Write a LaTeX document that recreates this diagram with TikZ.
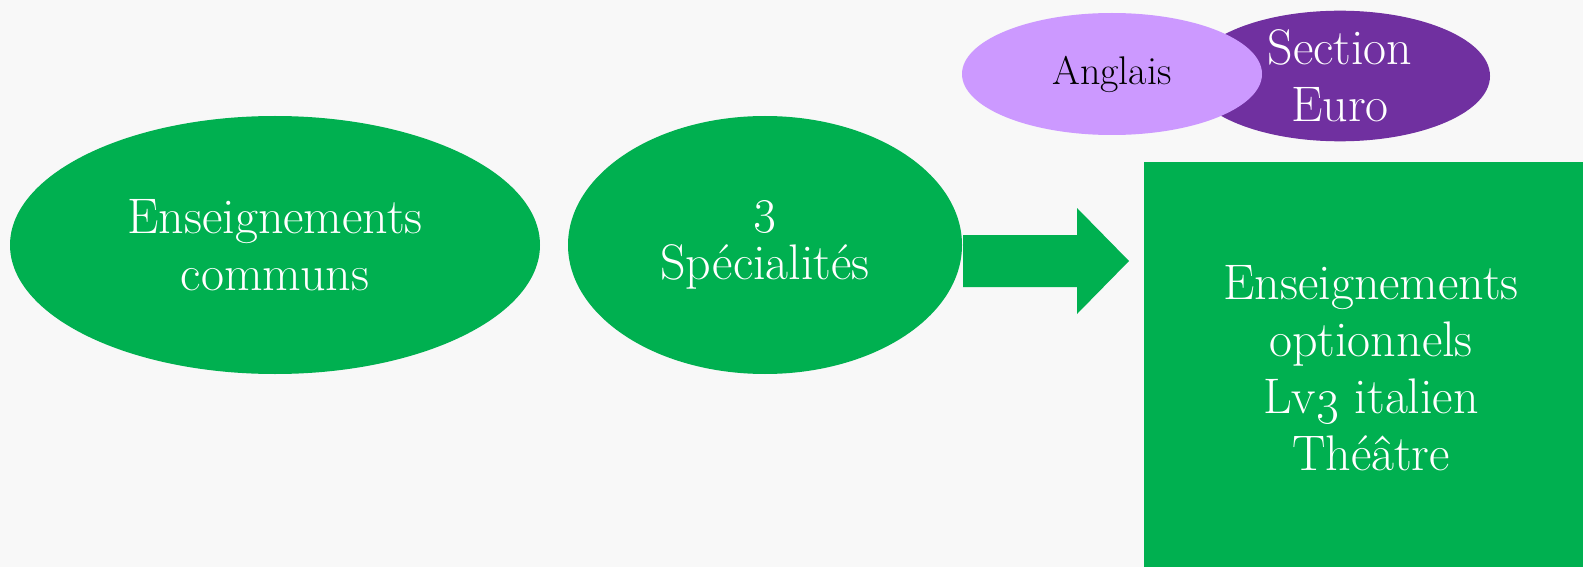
\RequirePackage{fix-cm}
\documentclass[tikz,border=0pt]{standalone}
\usetikzlibrary{shapes.geometric}
\definecolor{vert}{HTML}{00B050}
\definecolor{mauve}{HTML}{CC99FF}
\definecolor{violet}{HTML}{7030A0}
\definecolor{fond}{HTML}{F8F8F8}
\begin{document}
\begin{tikzpicture}[x=1pt,y=-1pt,
        grand/.style={font=\fontsize{50}{57}\selectfont},
        bulle/.style={ellipse,fill=vert,text=white,align=center,inner sep=0pt,grand},
        bloc/.style={rectangle,fill=vert,text=white,align=center,inner sep=0pt,grand}]
        %% Background
        \fill[fond] (0,0) rectangle (1583,567);
        \useasboundingbox (0,0) rectangle (1583,567);
        %% Green shapes
        \node[bulle,minimum width=530,minimum height=258] (communs) at (275,245)
            {Enseignements\\communs};
        \node[bulle,minimum width=394,minimum height=258] (specialites) at (765,245)
            {\oldstylenums{3}\\Spécialités};
        \fill[vert] (963,235) -- (1077,235) -- (1077,208) -- (1129,261)
            -- (1077,314) -- (1077,287) -- (963,287) -- cycle;
        \node[bloc,minimum width=439,minimum height=405] (options) at (1363.5,364.5) {};
        \node[text=white,align=center,grand] (optionstxt) at (1371,368)
            {Enseignements\\optionnels\\Lv\oldstylenums{3} italien\\Théâtre};
        %% Purple shapes
        \node[ellipse,fill=violet,text=white,align=center,inner sep=0pt,grand,
            minimum width=300,minimum height=126] (euro) at (1340,76) {Section\\Euro};
        \node[ellipse,fill=mauve,text=black,inner sep=0pt,font=\fontsize{40}{46}\selectfont,
            minimum width=300,minimum height=122] (anglais) at (1112,74) {Anglais};
    \end{tikzpicture}
\end{document}
